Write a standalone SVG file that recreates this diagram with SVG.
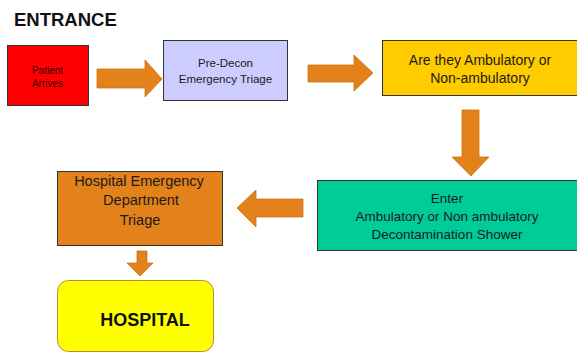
<svg xmlns="http://www.w3.org/2000/svg" width="577" height="355" viewBox="0 0 577 355">
<style>
text{font-family:"Liberation Sans",Arial,sans-serif;fill:#1a1a1a;text-anchor:middle}
.box{stroke:#333;stroke-width:1}
.arr{fill:#E3821A;stroke:#C77417;stroke-width:0.8}
</style>
<rect width="577" height="355" fill="#fff"/>
<text x="14" y="26" style="text-anchor:start;font-weight:bold;font-size:18.5px;fill:#111">ENTRANCE</text>
<g id="patient">
<rect class="box" x="7.5" y="45.5" width="81" height="60" fill="#FF0000"/>
<text x="47.5" y="74" font-size="10" style="fill:#3a0000">Patient</text>
<text x="47.5" y="87" font-size="10" style="fill:#3a0000">Arrives</text>
</g>
<g id="predecon">
<rect class="box" x="163.5" y="40.5" width="124" height="60" fill="#CCCCFF"/>
<text x="225.5" y="67" font-size="11.5">Pre-Decon</text>
<text x="225.5" y="83" font-size="11.5">Emergency Triage</text>
</g>
<g id="ambulatory">
<rect class="box" x="382.5" y="40.5" width="200" height="55" fill="#FFCC00"/>
<text x="480" y="65" font-size="14">Are they Ambulatory or</text>
<text x="480" y="83" font-size="14">Non-ambulatory</text>
</g>
<g id="shower">
<rect class="box" x="317.5" y="180.5" width="265" height="70" fill="#00CC99"/>
<text x="447" y="203" font-size="13.5">Enter</text>
<text x="447" y="221" font-size="13.5">Ambulatory or Non ambulatory</text>
<text x="447" y="239" font-size="13.5">Decontamination Shower</text>
</g>
<g id="edtriage">
<rect class="box" x="57.5" y="171.5" width="165" height="74" fill="#E3811A"/>
<text x="139" y="186" font-size="14.5">Hospital Emergency</text>
<text x="141" y="205" font-size="14.5">Department</text>
<text x="140" y="225" font-size="14.5">Triage</text>
</g>
<g id="hospital">
<rect x="57.5" y="280.5" width="156" height="71" rx="11" fill="#FFFF00" stroke="#C8862E" stroke-width="1"/>
<text x="145" y="326" font-size="18" font-weight="bold" style="fill:#111">HOSPITAL</text>
</g>
<g id="connectors">
<polygon class="arr" points="97,69 145,69 145,60 162,79 145,97 145,88 97,88"/>
<polygon class="arr" points="308,65 354,65 354,55 373,73 354,91 354,82 308,82"/>
<polygon class="arr" points="462,110 479,110 479,157 489,157 471,176 452,157 462,157"/>
<polygon class="arr" points="303,199 256,199 256,190 237,208 256,227 256,217 303,217"/>
<polygon class="arr" points="137,251 147,251 147,263 153,263 140,276 127,263 137,263"/>
</g>
</svg>
